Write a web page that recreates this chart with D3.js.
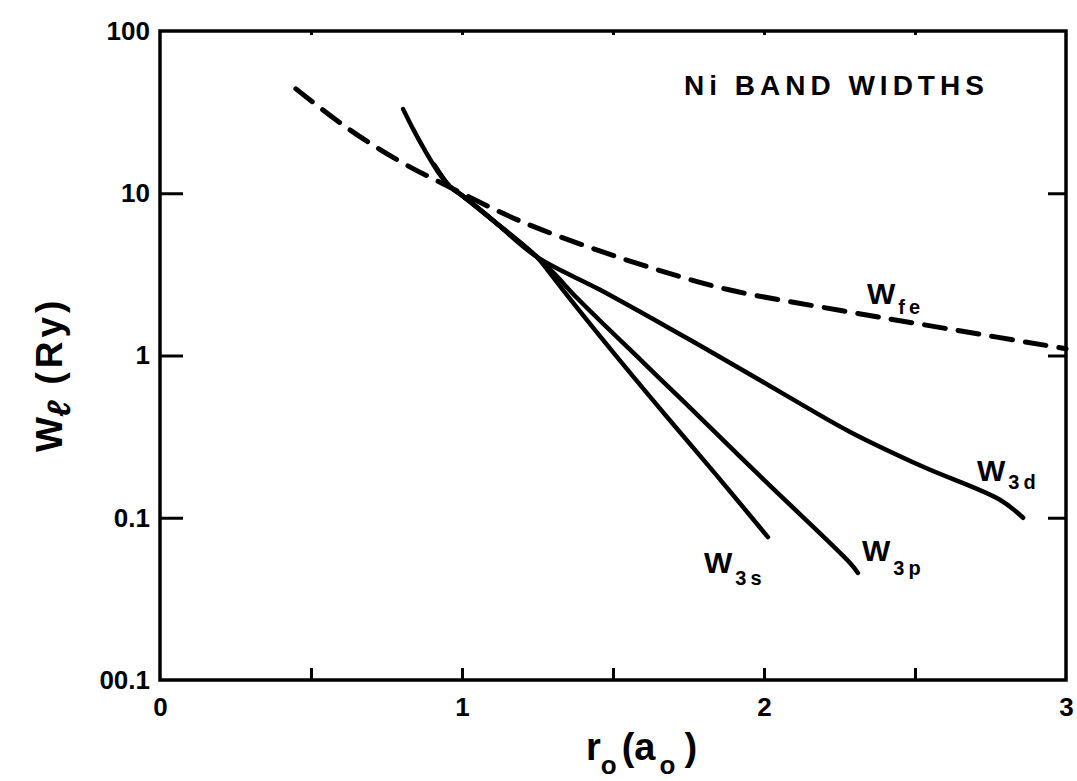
<!DOCTYPE html>
<html><head><meta charset="utf-8">
<script src="https://cdn.jsdelivr.net/npm/d3@7/dist/d3.min.js"></script>
<style>
html,body{margin:0;padding:0;background:#fff;}
svg text{font-family:"Liberation Sans",Arial,sans-serif;fill:#000;}
</style></head>
<body>
<svg id="chart" width="1077" height="781"></svg>
<script>
// ---- data (r0 in a0, W in Ry) ----
const wfe = [[0.45,44],[0.63,24.5],[0.8,15.5],[0.96,10.9],[1.13,7.6],[1.24,6.2],[1.4,4.8],[1.62,3.5],[1.88,2.55],[2.25,1.9],[2.6,1.47],[3.0,1.1]];
const w3d = [[0.805,33],[0.84,24.5],[0.88,18.0],[0.92,13.6],[0.96,11.0],[1.0,9.7],[1.103,6.8],[1.248,4.05],[1.457,2.54],[1.679,1.5],[1.854,0.98],[2.07,0.572],[2.285,0.338],[2.527,0.206],[2.781,0.129],[2.858,0.1]];
const w3p = [[0.912,14.6],[0.96,11.0],[1.0,9.7],[1.103,6.8],[1.248,4.05],[1.308,3.16],[1.381,2.26],[1.599,0.91],[1.732,0.525],[2.0,0.171],[2.285,0.0526],[2.311,0.0457]];
const w3s = [[0.908,15.0],[0.96,11.0],[1.0,9.7],[1.103,6.8],[1.248,4.05],[1.29,3.24],[1.334,2.54],[1.5,1.05],[1.679,0.418],[1.848,0.178],[2.013,0.076]];
const xTickVals = [0,1,2,3];
const xMinorVals = [0.5,1,1.5,2,2.5];
const yTickVals = [100,10,1,0.1,0.01];
const yTickLabels = ["100","10","1","0.1","00.1"];
const yInnerTicks = [10,1,0.1];

const svg = d3.select("#chart");
const L=160, R=1066, T=31, B=680;
const x = d3.scaleLinear().domain([0,3]).range([L,R]);
const y = d3.scaleLog().domain([0.01,100]).range([B,T]);
const FONT = "Liberation Sans, Arial, sans-serif";

// frame
svg.append("rect").attr("x",L).attr("y",T).attr("width",R-L).attr("height",B-T)
  .attr("fill","none").attr("stroke","#000").attr("stroke-width",3.5);

// bottom inward ticks
svg.append("g").attr("transform",`translate(0,${B})`)
  .call(d3.axisBottom(x).tickValues(xMinorVals).tickSize(-12).tickFormat(""))
  .call(g=>{g.select(".domain").remove();g.selectAll("line").attr("stroke-width",3);});
// top small ticks
svg.append("g").attr("transform",`translate(0,${T})`)
  .call(d3.axisTop(x).tickValues(xMinorVals).tickSize(-4).tickFormat(""))
  .call(g=>{g.select(".domain").remove();g.selectAll("line").attr("stroke-width",3);});
// x labels
svg.append("g").attr("transform",`translate(0,${B})`)
  .call(d3.axisBottom(x).tickValues(xTickVals).tickSize(0).tickPadding(18).tickFormat(d3.format("d")))
  .call(g=>{g.select(".domain").remove();
    g.selectAll("text").attr("font-size",26).attr("font-weight","bold").style("font-family",FONT);});

// left inward ticks
svg.append("g").attr("transform",`translate(${L},0)`)
  .call(d3.axisLeft(y).tickValues(yInnerTicks).tickSize(-23).tickFormat(""))
  .call(g=>{g.select(".domain").remove();g.selectAll("line").attr("stroke-width",3);});
// right inward ticks
svg.append("g").attr("transform",`translate(${R},0)`)
  .call(d3.axisRight(y).tickValues(yInnerTicks).tickSize(-18).tickFormat(""))
  .call(g=>{g.select(".domain").remove();g.selectAll("line").attr("stroke-width",3);});
// y labels
svg.append("g").attr("transform",`translate(${L},0)`)
  .call(d3.axisLeft(y).tickValues(yTickVals).tickSize(0).tickPadding(10)
    .tickFormat((d,i)=>yTickLabels[i]))
  .call(g=>{g.select(".domain").remove();
    g.selectAll("text").attr("font-size",26).attr("font-weight","bold").style("font-family",FONT);});

// curves
const line = d3.line().x(d=>x(d[0])).y(d=>y(d[1])).curve(d3.curveCatmullRom.alpha(0.5));
const plot = svg.append("g");
plot.append("path").datum(wfe).attr("d",line).attr("fill","none").attr("stroke","#000")
  .attr("stroke-width",5).attr("stroke-dasharray","21,13").attr("stroke-linecap","round");
[w3d,w3p,w3s].forEach(s=>{
  plot.append("path").datum(s).attr("d",line).attr("fill","none").attr("stroke","#000")
    .attr("stroke-width",4.5).attr("stroke-linecap","round");
});

// curve labels
function wlabel(px,py,sub,dy){
  const t = svg.append("text").attr("x",px).attr("y",py).attr("font-size",30).attr("font-weight","bold");
  t.append("tspan").text("W");
  t.append("tspan").attr("dy",dy).attr("dx",3).attr("font-size",20).attr("letter-spacing",4).text(sub);
}
wlabel(867,304,"fe",10);
wlabel(977,481,"3d",8);
wlabel(704,573,"3s",12);
wlabel(862,561,"3p",14);

// title
svg.append("text").attr("x",684).attr("y",95).attr("font-size",28).attr("font-weight","bold")
  .attr("letter-spacing",5).text("Ni BAND WIDTHS");

// x axis title
const xt = svg.append("text").attr("x",586).attr("y",760).attr("font-size",38).attr("font-weight","bold");
xt.append("tspan").text("r");
xt.append("tspan").attr("dy",14).attr("font-size",26).text("o");
xt.append("tspan").attr("dy",-14).attr("dx",5).text("(a");
xt.append("tspan").attr("dy",14).attr("dx",4).attr("font-size",26).text("o");
xt.append("tspan").attr("dy",-14).attr("dx",9).text(")");

// y axis title
const yt = svg.append("text").attr("transform","translate(62,452) rotate(-90)").attr("font-size",37).attr("font-weight","bold");
yt.append("tspan").text("W");
yt.append("tspan").attr("dy",8).attr("font-size",32).attr("font-style","italic").text("ℓ");
yt.append("tspan").attr("dy",-8).attr("dx",16).attr("letter-spacing",4).text("(Ry)");
</script>
</body></html>
